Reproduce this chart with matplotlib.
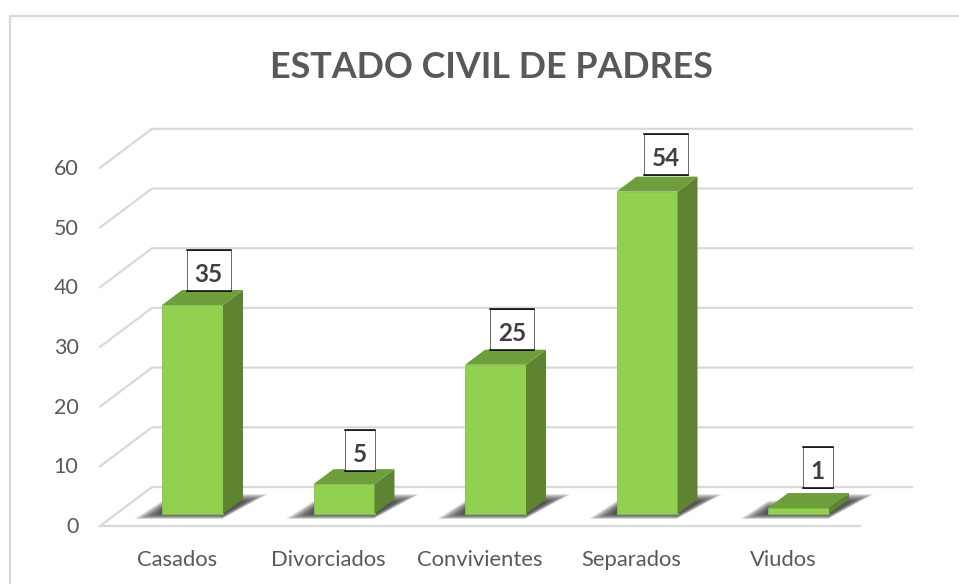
import matplotlib
matplotlib.use('Agg')
import matplotlib.pyplot as plt
from matplotlib.patches import Polygon, Rectangle

plt.rcParams['font.family'] = ['Lato', 'DejaVu Sans']

categories = ['Casados', 'Divorciados', 'Convivientes', 'Separados', 'Viudos']
values = [35, 5, 25, 54, 1]
y_ticks = [0, 10, 20, 30, 40, 50, 60]
title = 'ESTADO CIVIL DE PADRES'

# hand placed label boxes in the original, offsets in pixels from the bar top
label_shift_x = [16, 16, 16.5, 18.5, 19]
label_lift = [34.5, 33.5, 35, 37, 40.5]

# pixels per category and per unit, the whole figure is one axes
px_x = 151.5
px_y = 5.97
w = 959
h = 584
x0 = 192.5
y0 = 514

fig = plt.figure(figsize=(w / 100, h / 100), dpi=100)
ax = fig.add_axes([0, 0, 1, 1])
ax.set_xlim(-x0 / px_x, (w - x0) / px_x)
ax.set_ylim((y0 - h) / px_y, y0 / px_y)
ax.axis('off')

def dx(p):
    return p / px_x

def dy(p):
    return p / px_y

# chart frame, only top and left are visible
ax.plot([dx(10.5 - x0), dx(10.5 - x0), dx(w - x0)],
        [dy(y0 - h), dy(y0 - 16), dy(y0 - 16)],
        color='#d9d9d9', lw=1.6, zorder=1)

# walls and floor
left_front = dx(100 - x0)
left_back = dx(152 - x0)
right_front = dx(860 - x0)
right_back = dx(912 - x0)
front_off = -dy(12)
back_off = dy(27)
for v in y_ticks:
    ax.plot([left_front, left_back, right_back],
            [v + front_off, v + back_off, v + back_off],
            color='#d9d9d9', lw=1.6, zorder=1)
ax.plot([left_front, right_front], [front_off, front_off], color='#d9d9d9', lw=1.6, zorder=1)

bar_w = 61 / px_x
depth_x = dx(20)
depth_y = dy(15)

# shadow outline relative to the bar's left front corner, pixels
shadow_outer = [(-28, -5), (60, -5), (106, 20), (80, 20), (0, 13)]
shadow_inner = [(-2, 0), (62, 0), (82, 12), (66, 12), (0, 4)]
n_layers = 18

for i, v in enumerate(values):
    l = i - bar_w / 2
    r = i + bar_w / 2

    # soft shadow on the floor, stacked layers
    for k in range(n_layers):
        t = k / (n_layers - 1)
        pts = []
        for a, b in zip(shadow_outer, shadow_inner):
            pts.append((l + dx(a[0] + (b[0] - a[0]) * t), dy(a[1] + (b[1] - a[1]) * t)))
        ax.add_patch(Polygon(pts, fc='#303030', ec='none', alpha=0.085, zorder=2))

    ax.add_patch(Rectangle((l, 0), bar_w, v, fc='#92d050', ec='#84c044', lw=0.6, zorder=3))
    ax.add_patch(Polygon([(r, 0), (r + depth_x, depth_y), (r + depth_x, v + depth_y), (r, v)],
                         fc='#5f8431', ec='none', zorder=3))
    ax.add_patch(Polygon([(l, v), (r, v), (r + depth_x, v + depth_y), (l + depth_x, v + depth_y)],
                         fc='#6f9e3c', ec='none', zorder=3))

    # value label box, heavy top and bottom edges
    bw = dx(44 if v >= 10 else 30)
    bh = dy(41)
    cx = i + dx(label_shift_x[i])
    cy = v + dy(label_lift[i])
    ax.add_patch(Rectangle((cx - bw / 2, cy - bh / 2), bw, bh, fc='white', ec='#333333', lw=0.5, zorder=4))
    for ye in [cy - bh / 2, cy + bh / 2]:
        ax.plot([cx - bw / 2, cx + bw / 2], [ye, ye], color='black', lw=1.1, zorder=4)
    ax.text(cx, cy - dy(3.5), str(v), ha='center', va='center', fontsize=17.5, fontweight='bold',
            color='#404040', zorder=5)

    ax.text(i - dx(15.5), dy(y0 - 566), categories[i], ha='center', va='baseline',
            fontsize=15.8, color='#595959')

for v in y_ticks:
    ax.text(dx(78.5 - x0), v + front_off - dy(7), str(v), ha='right', va='baseline', fontsize=15.5, color='#595959')

ax.text(dx(491.5 - x0), dy(y0 - 78), title, ha='center', va='baseline', fontsize=25.8,
        fontweight='bold', color='#595959')

fig.savefig('out.png', dpi=100)
